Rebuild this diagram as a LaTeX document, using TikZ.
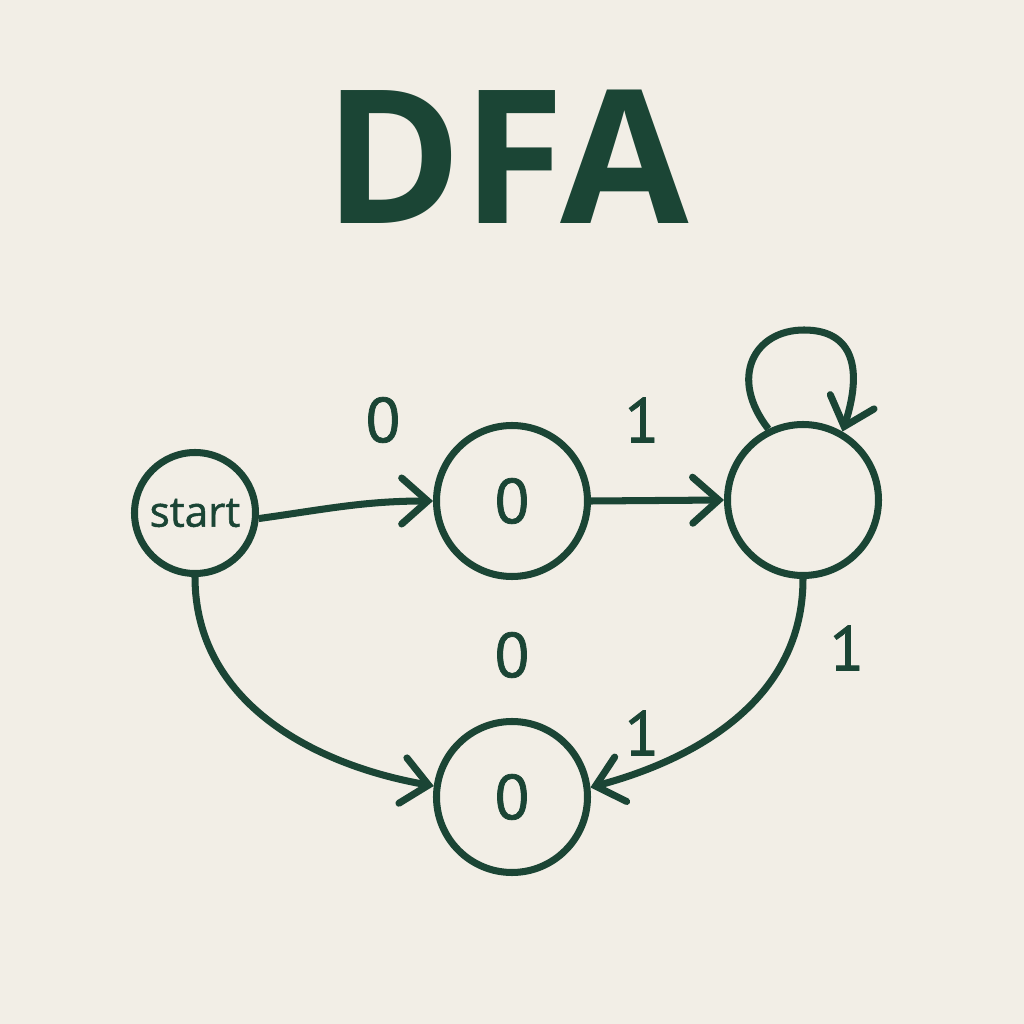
\documentclass[tikz,border=0pt]{standalone}
\usepackage{fontspec}
\setmainfont{Open Sans}
\newfontfamily\digitfont[FakeBold=1.2]{PT Sans}
\newfontfamily\startfont[FakeBold=1.2]{Open Sans}
\usetikzlibrary{arrows.meta}
\definecolor{paper}{HTML}{F2EEE6}
\definecolor{dfagreen}{HTML}{1B4535}
\tikzset{
	dfastate/.style={circle, draw=dfagreen, line width=2pt, minimum size=1.51cm, inner sep=0pt, text=dfagreen, font=\digitfont\fontsize{18}{18}\selectfont},
	trans/.style={draw=dfagreen, line width=2pt, -{Straight Barb[length=2.6mm,width=4.6mm,line cap=round]}},
	lbl/.style={text=dfagreen, font=\digitfont\fontsize{18}{18}\selectfont}
}
\begin{document}
\begin{tikzpicture}
					% Background
					\fill[paper] (0,0) rectangle (10.24,10.24);
					% Title
					\node[text=dfagreen, font=\fontsize{53}{58}\selectfont\bfseries] (title) at (5.07,8.67) {DFA};
					% States
					\node[dfastate, minimum size=1.21cm, font=\startfont\fontsize{12}{12}\selectfont] (start) at (1.95,5.11) {start};
					\node[dfastate] (q1) at (5.12,5.23) {0};
					\node[dfastate] (q2) at (8.03,5.24) {};
					\node[dfastate] (q3) at (5.12,2.27) {0};
					% Loop top point
					\coordinate (looptop) at (8.04,6.94);
					% Transitions
					\draw[trans] (start.-5) to[out=8,in=180] (q1.west);
					\draw[trans] (q1.east) -- (q2.west);
					\draw[trans] (q2.116) .. controls +(128:0.65) and +(180:0.5) .. (looptop) .. controls +(0:0.5) and +(72:0.65) .. (q2.60);
					\draw[trans] (start.south) to[out=-90,in=170] (q3.172);
					\draw[trans] (q2.south) to[out=-90,in=15] (q3.7);
					% Labels
					\node[lbl] (l1) at (3.83,6.04) {0};
					\node[lbl] (l2) at (6.42,6.04) {1};
					\node[lbl] (l3) at (5.12,3.69) {0};
					\node[lbl] (l4) at (8.47,3.76) {1};
					\node[lbl] (l5) at (6.42,2.91) {1};
\end{tikzpicture}
\end{document}
